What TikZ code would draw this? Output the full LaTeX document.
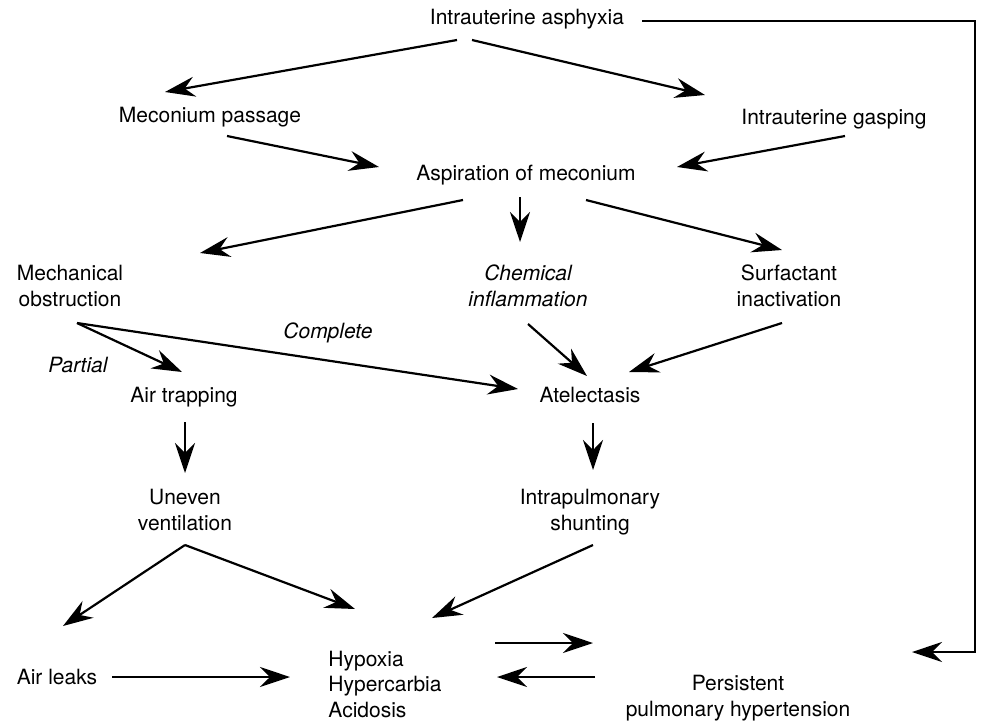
\documentclass[tikz,border=0pt]{standalone}
\usepackage{fontspec}
\setmainfont{TeX Gyre Heros}
\usetikzlibrary{arrows.meta}

\begin{document}
\begin{tikzpicture}[x=1pt,y=-1pt,
  box/.style={inner sep=0pt,align=center,font=\fontsize{21}{25.5}\selectfont},
  note/.style={inner sep=0pt,align=center,font=\fontsize{21}{25.5}\selectfont\itshape},
  arr/.style={line width=2.2pt,-{Stealth[length=30pt,width=20pt,inset=10pt]}}]
  \useasboundingbox (0,0) rectangle (995,720);

  % causes
  \node[box] (asph) at (527,19) {Intrauterine asphyxia};
  \node[box] (mec) at (210,117) {Meconium passage};
  \node[box] (gasp) at (834,119) {Intrauterine gasping};
  \node[box] (asp) at (526,175) {Aspiration of meconium};

  % effects in the lung
  \node[box] (mech) at (70,286) {Mechanical\\obstruction};
  \node[note] (chem) at (528,286) {Chemical\\inflammation};
  \node[box] (surf) at (789,286) {Surfactant\\inactivation};
  \node[note] (part) at (78,365) {Partial};
  \node[note] (compl) at (328,333) {Complete};
  \node[box] (air) at (184,397) {Air trapping};
  \node[box] (atel) at (590,395) {Atelectasis};
  \node[box] (uneven) at (185,510) {Uneven\\ventilation};
  \node[box] (intrap) at (590,512) {Intrapulmonary\\shunting};

  % outcome
  \node[box] (leaks) at (57,677) {Air leaks};
  \node[box,align=left] (hyp) at (385,684) {Hypoxia\\Hypercarbia\\Acidosis};
  \node[box] (pph) at (738,698) {Persistent\\pulmonary hypertension};

  % arrows
  \draw[arr] ([shift={(-70,21)}]asph.center) -- ([shift={(-45,-25)}]mec.center);
  \draw[arr] ([shift={(-55,21)}]asph.center) -- ([shift={(-129,-24)}]gasp.center);
  \draw[arr] ([shift={(17,19)}]mec.center) -- ([shift={(-147,-8)}]asp.center);
  \draw[arr] ([shift={(11,17)}]gasp.center) -- ([shift={(151,-8)}]asp.center);
  \draw[arr] ([shift={(-63,25)}]asp.center) -- ([shift={(130,-33)}]mech.center);
  \draw[arr] ([shift={(-6,22)}]asp.center) -- ([shift={(-8,-44)}]chem.center);
  \draw[arr] ([shift={(60,25)}]asp.center) -- ([shift={(-7,-36)}]surf.center);
  \draw[arr] ([shift={(7,37)}]mech.center) -- ([shift={(-2,-25)}]air.center);
  \draw[arr] ([shift={(7,37)}]mech.center) -- ([shift={(-72,-6)}]atel.center);
  \draw[arr] ([shift={(0,38)}]chem.center) -- ([shift={(-3,-19)}]atel.center);
  \draw[arr] ([shift={(-7,37)}]surf.center) -- ([shift={(39,-23)}]atel.center);
  \draw[arr] ([shift={(1,25)}]air.center) -- ([shift={(0,-37)}]uneven.center);
  \draw[arr] ([shift={(3,28)}]atel.center) -- ([shift={(3,-42)}]intrap.center);
  \draw[arr] ([shift={(0,35)}]uneven.center) -- ([shift={(6,-51)}]leaks.center);
  \draw[arr] ([shift={(0,35)}]uneven.center) -- ([shift={(-30,-75)}]hyp.center);
  \draw[arr] ([shift={(3,33)}]intrap.center) -- ([shift={(47,-66)}]hyp.center);
  \draw[arr] ([shift={(55,0)}]leaks.center) -- ([shift={(-95,-7)}]hyp.center);
  \draw[arr] ([shift={(110,-41)}]hyp.center) -- ([shift={(-145,-55)}]pph.center);
  \draw[arr] ([shift={(-143,-21)}]pph.center) -- ([shift={(112,-7)}]hyp.center);
  \draw[arr] ([shift={(115,2)}]asph.center) -- ++(333,0) |- ([shift={(174,-46)}]pph.center);
\end{tikzpicture}
\end{document}
